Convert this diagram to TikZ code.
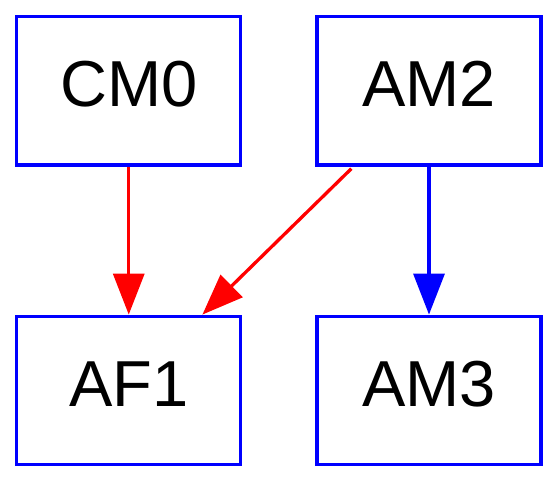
\documentclass[tikz,border=0pt]{standalone}
\usepackage{fontspec}
\setmainfont{Liberation Sans}
\usetikzlibrary{arrows.meta,calc}
\definecolor{gvblue}{RGB}{0,0,255}
\definecolor{gvred}{RGB}{255,0,0}
\begin{document}
\begin{tikzpicture}[x=1pt,y=1pt,
  box/.style={draw=gvblue, line width=3.3pt, minimum width=224pt, minimum height=148.5pt,
    inner sep=0pt, text height=47pt, text depth=16pt,
    font=\fontsize{65}{78}\selectfont},
  edge/.style={line width=3.3pt, -{Triangle[length=41pt,width=31pt]}}]
\useasboundingbox (0,0) rectangle (558,483);
\node[box] (CM0) at (128.75,392.25) {CM0};
\node[box] (AM2) at (429,392.25) {AM2};
\node[box] (AF1) at (128.75,92.5) {AF1};
\node[box] (AM3) at (429,92.5) {AM3};
\draw[edge, draw=gvred, fill=gvred] (CM0) -- (AF1);
\draw[edge, draw=gvred, fill=gvred] ($(AM2.south west)+(36pt,-2pt)$) -- ($(AF1.north east)+(-40pt,0pt)$);
\draw[edge, draw=gvblue, fill=gvblue] (AM2) -- (AM3);
\end{tikzpicture}
\end{document}
